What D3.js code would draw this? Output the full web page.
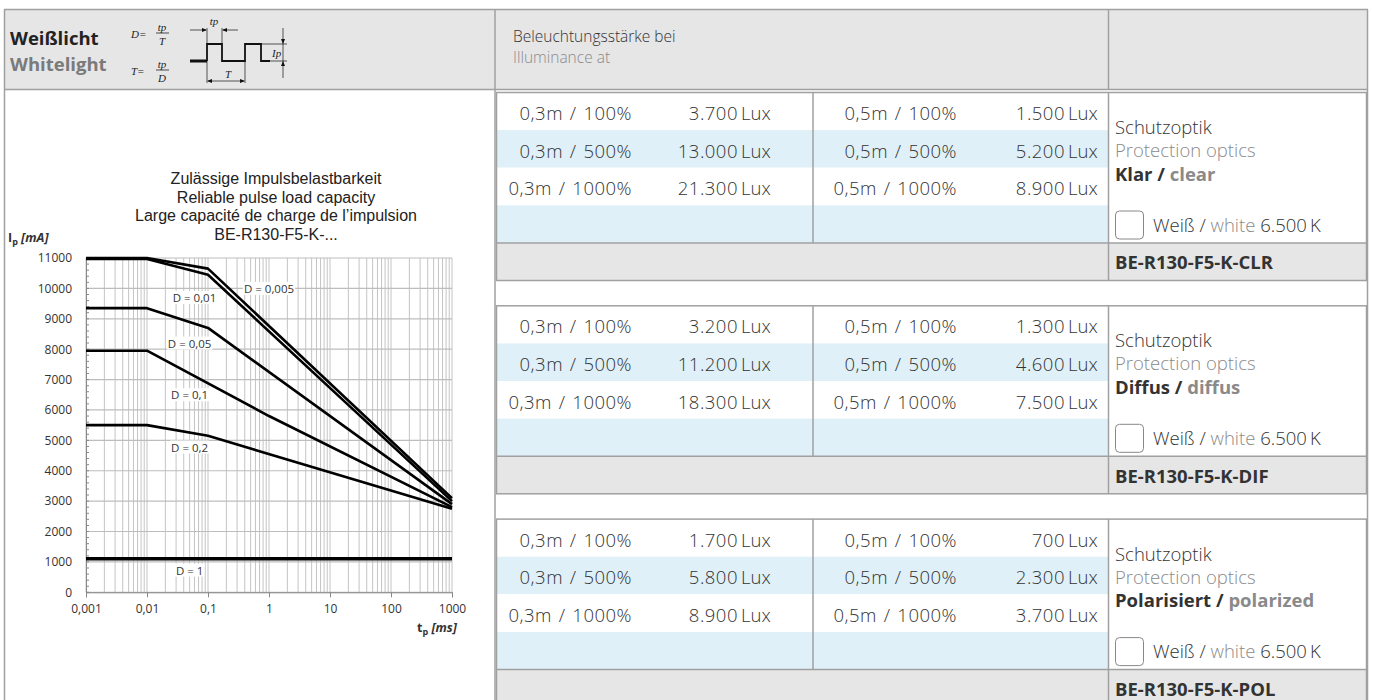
<!DOCTYPE html>
<html><head><meta charset="utf-8">
<script src="https://cdn.jsdelivr.net/npm/d3@7"></script>
<style>body{margin:0;background:#fff}svg{display:block}</style>
</head><body>
<svg id="c" width="1373" height="700"></svg>
<script>
// ---------------- chart data ----------------
const xTickValues = [0.001, 0.01, 0.1, 1, 10, 100, 1000];
const xTickLabels = ["0,001", "0,01", "0,1", "1", "10", "100", "1000"];
const yTickValues = [0, 1000, 2000, 3000, 4000, 5000, 6000, 7000, 8000, 9000, 10000, 11000];
const chartTitle = ["Zulässige Impulsbelastbarkeit", "Reliable pulse load capacity", "Large capacité de charge de l’impulsion", "BE-R130-F5-K-..."];
const dutyLabels = ["D = 0,005", "D = 0,01", "D = 0,05", "D = 0,1", "D = 0,2", "D = 1"];
const tD0005 = [0.001, 0.01, 0.1, 1000];
const ipD0005 = [11000, 11000, 10650, 3100];
const tD001 = [0.001, 0.01, 0.1, 1000];
const ipD001 = [10970, 10970, 10450, 3000];
const tD005 = [0.001, 0.01, 0.1, 1000];
const ipD005 = [9350, 9350, 8700, 2900];
const tD01 = [0.001, 0.01, 1, 1000];
const ipD01 = [7950, 7950, 5800, 2800];
const tD02 = [0.001, 0.01, 0.1, 1000];
const ipD02 = [5500, 5500, 5150, 2750];
const tD1 = [0.001, 1000];
const ipD1 = [1100, 1100];
const labelT = [1, 0.06, 0.05, 0.05, 0.05, 0.05];
const labelIp = [10000, 9700, 8200, 6500, 4780, 730];

// ---------------- table data ----------------
const rowLabels03 = ["0,3m / 100%", "0,3m / 500%", "0,3m / 1000%"];
const rowLabels05 = ["0,5m / 100%", "0,5m / 500%", "0,5m / 1000%"];
const luxClear03 = [3700, 13000, 21300];
const luxClear05 = [1500, 5200, 8900];
const luxDiffus03 = [3200, 11200, 18300];
const luxDiffus05 = [1300, 4600, 7500];
const luxPolar03 = [1700, 5800, 8900];
const luxPolar05 = [700, 2300, 3700];
const opticsDe = ["Klar", "Diffus", "Polarisiert"];
const opticsEn = ["clear", "diffus", "polarized"];
const productCodes = ["BE-R130-F5-K-CLR", "BE-R130-F5-K-DIF", "BE-R130-F5-K-POL"];

// ---------------- styles ----------------
const FONT = "'Open Sans', 'Noto Sans', sans-serif";
const ARIAL = "'Liberation Sans', Arial, sans-serif";
const SERIF = "'Liberation Serif', 'DejaVu Serif', serif";
const border = "#a0a0a0";
const headFill = "#e6e6e7";
const blueFill = "#dff0f8";
const dark = "#333333";
const gray = "#8a8a8a";
const TS = 18.5; // table font size
const LIGHT = 300;

const de = d3.formatLocale({decimal: ",", thousands: ".", grouping: [3], currency: ["", "€"]});
const fmt = de.format(",d");

const svg = d3.select("#c");

// ---------------- header ----------------
svg.append("rect").attr("x", 4).attr("y", 9.5).attr("width", 1364).attr("height", 80).attr("fill", headFill);
svg.append("text").attr("x", 10).attr("y", 45).attr("font-family", FONT).attr("font-weight", 700)
  .attr("font-size", 18.5).attr("fill", "#222").text("Weißlicht");
svg.append("text").attr("x", 10).attr("y", 71).attr("font-family", FONT).attr("font-weight", 700)
  .attr("font-size", 18.5).attr("fill", "#7a7a7a").text("Whitelight");

// formulas
function formula(g, lhs, num, den, yBar) {
  g.append("text").attr("x", 131).attr("y", yBar + 5).attr("font-family", SERIF).attr("font-style", "italic")
    .attr("font-size", 11).attr("fill", "#222").text(lhs);
  g.append("text").attr("x", 162).attr("y", yBar - 2.5).attr("text-anchor", "middle").attr("font-family", SERIF)
    .attr("font-style", "italic").attr("font-size", 11).attr("fill", "#222").text(num);
  g.append("line").attr("x1", 156).attr("x2", 169).attr("y1", yBar).attr("y2", yBar).attr("stroke", "#222").attr("stroke-width", 0.8);
  g.append("text").attr("x", 162).attr("y", yBar + 11.5).attr("text-anchor", "middle").attr("font-family", SERIF)
    .attr("font-style", "italic").attr("font-size", 11).attr("fill", "#222").text(den);
}
const hg = svg.append("g");
formula(hg, "D=", "tp", "T", 33);
formula(hg, "T=", "tp", "D", 70);

// pulse diagram (decorative)
const pg = svg.append("g").attr("fill", "none").attr("stroke", "#111");
pg.append("path").attr("d", "M190,61 H207").attr("stroke-width", 3);
pg.append("path").attr("d", "M207,61 V44 H222 V61 H245 V44 H261 V61 H270").attr("stroke-width", 1.8);
pg.append("path").attr("d", "M207,44 V28 M222,44 V28 M207,61 V83 M245,61 V83 M261,44 H287 M270,61 H287 M283,28 V78").attr("stroke-width", 0.7);
pg.append("path").attr("d", "M190,30 H206 M223,30 H238 M208,81 H244").attr("stroke-width", 0.7);
const ag = svg.append("g").attr("fill", "#111");
ag.append("path").attr("d", "M207,30 l-5,-2 v4 z");
ag.append("path").attr("d", "M222,30 l5,-2 v4 z");
ag.append("path").attr("d", "M207,81 l5,-2 v4 z");
ag.append("path").attr("d", "M245,81 l-5,-2 v4 z");
ag.append("path").attr("d", "M283,44 l-2,-5 h4 z");
ag.append("path").attr("d", "M283,61 l-2,5 h4 z");
svg.append("text").attr("x", 214).attr("y", 25).attr("text-anchor", "middle").attr("font-family", SERIF)
  .attr("font-style", "italic").attr("font-size", 11).attr("fill", "#222").text("tp");
svg.append("text").attr("x", 228).attr("y", 78).attr("text-anchor", "middle").attr("font-family", SERIF)
  .attr("font-style", "italic").attr("font-size", 11).attr("fill", "#222").text("T");
svg.append("text").attr("x", 272).attr("y", 57).attr("font-family", SERIF)
  .attr("font-style", "italic").attr("font-size", 11).attr("fill", "#222").text("Ip");

svg.append("text").attr("x", 513).attr("y", 42).attr("font-family", FONT).attr("font-weight", LIGHT).attr("font-size", 15.5).attr("fill", dark).text("Beleuchtungsstärke bei");
svg.append("text").attr("x", 513).attr("y", 63).attr("font-family", FONT).attr("font-weight", LIGHT).attr("font-size", 15.5).attr("fill", gray).text("Illuminance at");

// ---------------- table blocks ----------------
const blockData = [
  {a: luxClear03, b: luxClear05, de: opticsDe[0], en: opticsEn[0], code: productCodes[0]},
  {a: luxDiffus03, b: luxDiffus05, de: opticsDe[1], en: opticsEn[1], code: productCodes[1]},
  {a: luxPolar03, b: luxPolar05, de: opticsDe[2], en: opticsEn[2], code: productCodes[2]}
];
const rh = 37.6;
const bx0 = 496.5, bx1 = 1366.5, bxMid = 813, bxRight = 1108.5;
blockData.forEach((b, i) => {
  const y0 = 92.5 + i * 213.3;
  const g = svg.append("g");
  [0, 1, 2, 3].forEach(r => {
    g.append("rect").attr("x", bx0).attr("y", y0 + r * rh).attr("width", bxRight - bx0).attr("height", rh)
      .attr("fill", r % 2 ? blueFill : "#fff");
  });
  g.append("rect").attr("x", bxRight).attr("y", y0).attr("width", bx1 - bxRight).attr("height", 4 * rh).attr("fill", "#fff");
  g.append("rect").attr("x", bx0).attr("y", y0 + 4 * rh).attr("width", bx1 - bx0).attr("height", rh).attr("fill", headFill);
  // lines
  g.append("rect").attr("x", bx0).attr("y", y0).attr("width", bx1 - bx0).attr("height", 5 * rh)
    .attr("fill", "none").attr("stroke", border).attr("stroke-width", 1.5);
  g.append("line").attr("x1", bx0).attr("x2", bx1).attr("y1", y0 + 4 * rh).attr("y2", y0 + 4 * rh).attr("stroke", border).attr("stroke-width", 1.5);
  g.append("line").attr("x1", bxMid).attr("x2", bxMid).attr("y1", y0).attr("y2", y0 + 4 * rh).attr("stroke", border).attr("stroke-width", 1.5);
  g.append("line").attr("x1", bxRight).attr("x2", bxRight).attr("y1", y0).attr("y2", y0 + 5 * rh).attr("stroke", border).attr("stroke-width", 1.5);
  // values
  [0, 1, 2].forEach(r => {
    const yb = y0 + r * rh + 27.5;
    const t = (x, anchor, txt, ls, ws) => g.append("text").attr("x", x).attr("y", yb).attr("text-anchor", anchor)
      .attr("font-family", FONT).attr("font-weight", LIGHT).attr("font-size", TS).attr("fill", dark)
      .style("letter-spacing", ls + "px").style("word-spacing", ws + "px").text(txt);
    t(632, "end", rowLabels03[r], 0.5, 1.5);
    t(738, "end", fmt(b.a[r]), 0.5, 0);
    t(741, "start", "Lux", 0, 0);
    t(957, "end", rowLabels05[r], 0.5, 1.5);
    t(1065, "end", fmt(b.b[r]), 0.5, 0);
    t(1068, "start", "Lux", 0, 0);
  });
  // right cell
  g.append("text").attr("x", 1115).attr("y", y0 + 41.5).attr("font-family", FONT).attr("font-weight", LIGHT).attr("font-size", TS).attr("fill", dark).text("Schutzoptik");
  g.append("text").attr("x", 1115).attr("y", y0 + 64.5).attr("font-family", FONT).attr("font-weight", LIGHT).attr("font-size", TS).attr("fill", gray).text("Protection optics");
  const kt = g.append("text").attr("x", 1115).attr("y", y0 + 88).attr("font-family", FONT).attr("font-size", TS).attr("font-weight", 700);
  kt.append("tspan").attr("fill", dark).text(b.de + " / ");
  kt.append("tspan").attr("fill", gray).text(b.en);
  g.append("rect").attr("x", 1115.5).attr("y", y0 + 118.5).attr("width", 28).attr("height", 28).attr("rx", 4)
    .attr("fill", "#fff").attr("stroke", "#888").attr("stroke-width", 1);
  const wt = g.append("text").attr("x", 1153).attr("y", y0 + 139).attr("font-family", FONT).attr("font-weight", LIGHT).attr("font-size", TS);
  wt.append("tspan").attr("fill", dark).text("Weiß / ");
  wt.append("tspan").attr("fill", gray).text("white");
  wt.append("tspan").attr("fill", dark).text(" 6.500\u2009K");
  g.append("text").attr("x", 1115).attr("y", y0 + 4 * rh + 26.5).attr("font-family", FONT).attr("font-size", TS)
    .attr("font-weight", 700).attr("fill", dark).text(b.code);
});

// outer frame lines
const fr = svg.append("g").attr("stroke", border).attr("stroke-width", 1.5);
fr.append("line").attr("x1", 4).attr("x2", 1368).attr("y1", 9.5).attr("y2", 9.5);
fr.append("line").attr("x1", 4).attr("x2", 1368).attr("y1", 89.5).attr("y2", 89.5);
fr.append("line").attr("x1", 4.5).attr("x2", 4.5).attr("y1", 9.5).attr("y2", 700);
fr.append("line").attr("x1", 1367.5).attr("x2", 1367.5).attr("y1", 9.5).attr("y2", 700);
fr.append("line").attr("x1", 495).attr("x2", 495).attr("y1", 9.5).attr("y2", 700);
fr.append("line").attr("x1", 1108.5).attr("x2", 1108.5).attr("y1", 9.5).attr("y2", 89.5);

// ---------------- chart ----------------
const x = d3.scaleLog().domain([0.001, 1000]).range([86, 452]);
const y = d3.scaleLinear().domain([0, 11000]).range([592.3, 258]);
const cg = svg.append("g");

chartTitle.forEach((t, i) => {
  cg.append("text").attr("x", 276).attr("y", 184 + i * 18.5).attr("text-anchor", "middle")
    .attr("font-family", ARIAL).attr("font-size", 16).attr("fill", "#222").text(t);
});

// grid
cg.append("g").selectAll("line").data(x.ticks()).join("line")
  .attr("x1", d => x(d)).attr("x2", d => x(d)).attr("y1", y(0)).attr("y2", y(11000))
  .attr("stroke", "#c4c4c4").attr("stroke-width", 1);
cg.append("g").selectAll("line").data(yTickValues).join("line")
  .attr("x1", x(0.001)).attr("x2", x(1000)).attr("y1", d => y(d)).attr("y2", d => y(d))
  .attr("stroke", "#bdbdbd").attr("stroke-width", 1.2);

// minor y ticks
cg.append("g").selectAll("line").data(d3.range(0, 11001, 200)).join("line")
  .attr("x1", x(0.001)).attr("x2", x(0.001) + 3).attr("y1", d => y(d)).attr("y2", d => y(d))
  .attr("stroke", "#888").attr("stroke-width", 1);

// axes
const yAxis = cg.append("g").attr("transform", `translate(${x(0.001)},0)`)
  .call(d3.axisLeft(y).tickValues(yTickValues).tickSize(0).tickPadding(14).tickFormat(d3.format("d")));
yAxis.select(".domain").attr("stroke", "#888");
yAxis.selectAll("text").attr("font-family", FONT).attr("font-size", 12).attr("fill", "#333");

const xAxis = cg.append("g").attr("transform", `translate(0,${y(0)})`)
  .call(d3.axisBottom(x).tickValues(xTickValues).tickSize(5).tickPadding(7).tickFormat((d, i) => xTickLabels[i]));
xAxis.select(".domain").attr("stroke", "#888");
xAxis.selectAll("line").attr("stroke", "#888");
xAxis.selectAll("text").attr("font-family", FONT).attr("font-size", 12).attr("fill", "#333");

// axis titles
const ytl = cg.append("text").attr("x", 8).attr("y", 242).attr("font-family", FONT).attr("font-size", 12.5)
  .attr("font-weight", 700).attr("fill", "#333");
ytl.append("tspan").text("I");
ytl.append("tspan").attr("font-size", 9).attr("dy", 3).text("p");
ytl.append("tspan").attr("dy", -3).attr("font-style", "italic").text(" [mA]");
const xtl = cg.append("text").attr("x", 417).attr("y", 632).attr("font-family", FONT).attr("font-size", 12.5)
  .attr("font-weight", 700).attr("fill", "#333");
xtl.append("tspan").text("t");
xtl.append("tspan").attr("font-size", 9).attr("dy", 3).text("p");
xtl.append("tspan").attr("dy", -3).attr("font-style", "italic").text(" [ms]");

// series
const series = [
  d3.zip(tD0005, ipD0005), d3.zip(tD001, ipD001), d3.zip(tD005, ipD005),
  d3.zip(tD01, ipD01), d3.zip(tD02, ipD02), d3.zip(tD1, ipD1)
];
const line = d3.line().x(d => x(d[0])).y(d => y(d[1]));
cg.append("g").selectAll("path").data(series).join("path")
  .attr("d", line).attr("fill", "none").attr("stroke", "#000")
  .attr("stroke-width", (d, i) => i === 5 ? 3.5 : 2.6).attr("stroke-linejoin", "round");

// labels
const lg = cg.append("g");
dutyLabels.forEach((lab, i) => {
  const tx = lg.append("text").attr("x", x(labelT[i])).attr("y", y(labelIp[i]) + 4.5).attr("text-anchor", "middle")
    .attr("font-family", FONT).attr("font-size", 11.5).attr("fill", "#333").text(lab);
  const bb = tx.node().getBBox();
  lg.insert("rect", () => tx.node()).attr("x", bb.x - 1).attr("y", bb.y + 1).attr("width", bb.width + 2)
    .attr("height", bb.height - 2).attr("fill", "#fff");
});
</script>
</body></html>
